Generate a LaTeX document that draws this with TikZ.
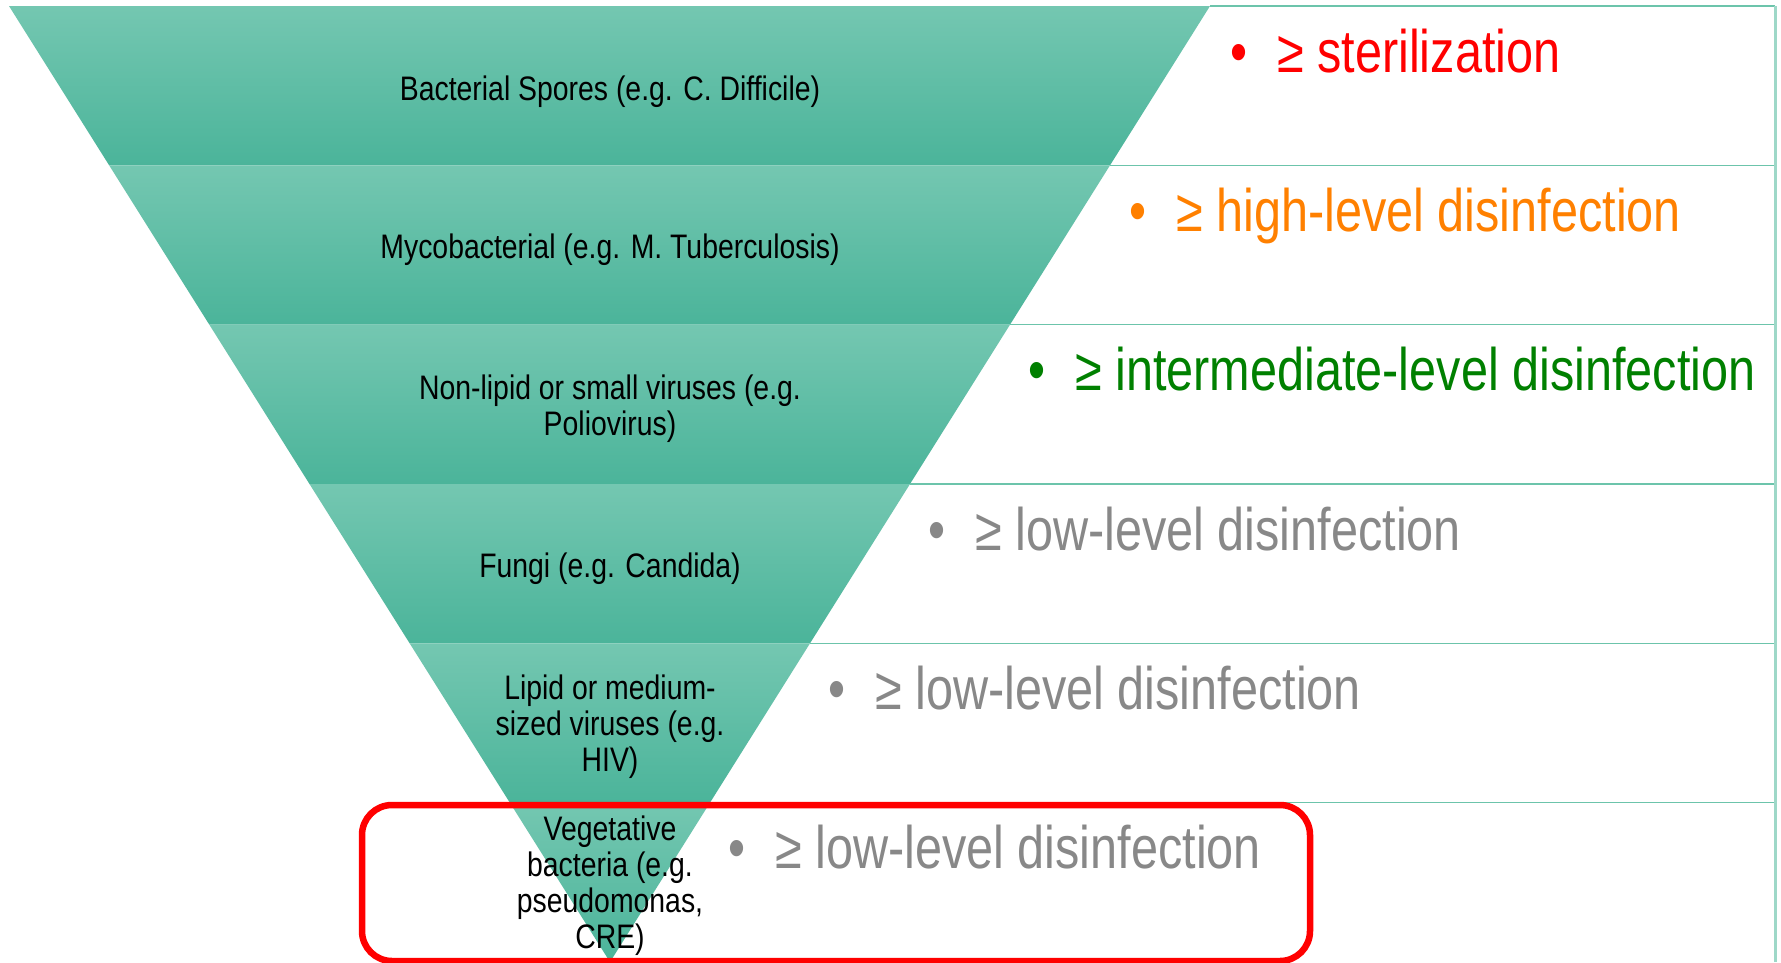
\documentclass[tikz,border=0pt]{standalone}
\usepackage{fontspec}
\setmainfont{Liberation Sans}
\newfontfamily\labfont[FakeStretch=0.835]{Liberation Sans}
\newfontfamily\lvlfont[FakeStretch=0.81]{Liberation Sans}
\usetikzlibrary{calc}
\definecolor{bandtop}{HTML}{74C7B1}
\definecolor{bandmid}{HTML}{56C1A7}
\definecolor{bandbot}{HTML}{4BB49A}
\definecolor{gridline}{HTML}{6CC4AB}
\definecolor{frameline}{HTML}{9ED8C8}
\definecolor{lvlred}{HTML}{FF0000}
\definecolor{lvlorange}{HTML}{FF8000}
\definecolor{lvlgreen}{HTML}{008000}
\definecolor{lvlgrey}{HTML}{888888}
\tikzset{
  band/.style={top color=bandtop, middle color=bandmid, bottom color=bandbot, draw=none},
  lab/.style={align=center, inner sep=0pt, font=\labfont\fontsize{34}{36}\selectfont, text=black},
  lvl/.style={anchor=base west, inner sep=0pt, font=\lvlfont\fontsize{60}{66}\selectfont},
  gridrule/.style={draw=gridline, line width=1.6pt},
  framerule/.style={draw=frameline, line width=3pt},
  hilite/.style={draw=lvlred, line width=6.5pt, rounded corners=30pt}
}
\begin{document}
\begin{tikzpicture}[x=1pt,y=-1pt]
\useasboundingbox (0,0) rectangle (1781,962);
\fill[white] (0,0) rectangle (1781,962);
\coordinate (L0) at (9,6);
\coordinate (R0) at (1210,6);
\coordinate (A) at (610,962);
\foreach \k in {1,...,5}{
  \coordinate (L\k) at ($(L0)!\k/6!(A)$);
  \coordinate (R\k) at ($(R0)!\k/6!(A)$);
}
\coordinate (L6) at (A);
\coordinate (R6) at (A);
% bands
\foreach \k [evaluate=\k as \n using int(\k+1)] in {0,...,5}{
  \shade[band] (L\k) -- (R\k) -- (R\n) -- (L\n) -- cycle;
}
% table rules
\foreach \k in {0,...,5}{
  \draw[gridrule] (R\k) -- (1775,0 |- R\k);
}
\draw[framerule] (1775,6) -- (1775,962);
% labels in triangle
\node[lab] (b1) at (610,92) {Bacterial Spores (e.g. C. Difficile)};
\node[lab] (b2) at (610,250) {Mycobacterial (e.g. M. Tuberculosis)};
\node[lab] (b3) at (610,409) {Non-lipid or small viruses (e.g.\\Poliovirus)};
\node[lab] (b4) at (610,569) {Fungi (e.g. Candida)};
\node[lab] (b5) at (610,727) {Lipid or medium-\\sized viruses (e.g.\\HIV)};
\node[lab] (b6) at (610,886) {Vegetative\\bacteria (e.g.\\pseudomonas,\\CRE)};
% level texts
\node[lvl, text=lvlred] (t1) at (1230,72) {\makebox[47pt][l]{•}≥ sterilization};
\node[lvl, text=lvlorange] (t2) at (1129,231) {\makebox[47pt][l]{•}≥ high-level disinfection};
\node[lvl, text=lvlgreen] (t3) at (1028,390) {\makebox[47pt][l]{•}≥ intermediate-level disinfection};
\node[lvl, text=lvlgrey] (t4) at (928,550) {\makebox[47pt][l]{•}≥ low-level disinfection};
\node[lvl, text=lvlgrey] (t5) at (828,709) {\makebox[47pt][l]{•}≥ low-level disinfection};
\node[lvl, text=lvlgrey] (t6) at (728,868) {\makebox[47pt][l]{•}≥ low-level disinfection};
% highlight box
\draw[hilite] (362,805) rectangle (1310,961);
\end{tikzpicture}
\end{document}
